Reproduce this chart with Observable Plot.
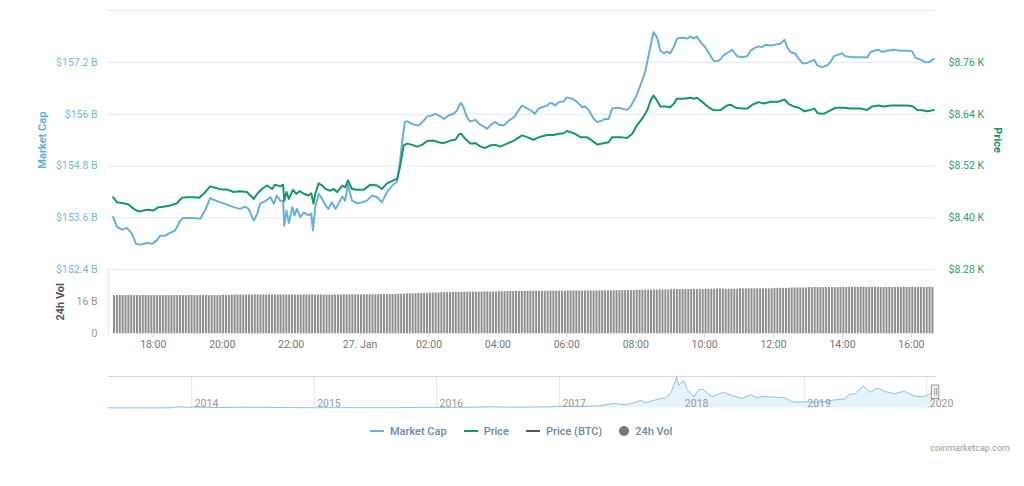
<!DOCTYPE html>
<html><head><meta charset="utf-8">
<script src="https://cdn.jsdelivr.net/npm/d3@7"></script>
<script src="https://cdn.jsdelivr.net/npm/@observablehq/plot@0.6"></script>
<style>
body{margin:0;background:#fff;font-family:Roboto,"Open Sans",sans-serif;}
#wrap{position:relative;width:1024px;height:486px;overflow:hidden;background:#fff;}
#wrap svg{position:absolute;left:0;top:0;}
#legend{position:absolute;top:423px;left:370px;display:flex;align-items:center;height:16px;font-size:11px;font-weight:500;color:#6b8aa6;white-space:nowrap;}
#legend .it{display:flex;align-items:center;margin-right:17px;}
#legend .ln{display:inline-block;width:14px;height:2px;margin-right:6px;}
#legend .dt{display:inline-block;width:10px;height:10px;border-radius:50%;margin-right:6px;}
#credit{position:absolute;top:443px;right:14px;font-size:9px;color:#999;}
</style></head><body><div id="wrap"></div>
<script>
// ---------- data ----------
const mcTime = ["26 16:50","26 16:57","26 17:06","26 17:14","26 17:23","26 17:30","26 17:37","26 17:49","26 17:58","26 18:06","26 18:12","26 18:21","26 18:30","26 18:38","26 18:47","26 18:52","26 19:04","26 19:16","26 19:22","26 19:30","26 19:39","26 19:45","26 19:57","26 20:08","26 20:20","26 20:31","26 20:40","26 20:46","26 20:55","26 21:01","26 21:06","26 21:15","26 21:24","26 21:30","26 21:35","26 21:41","26 21:46","26 21:48","26 21:52","26 21:56","26 22:02","26 22:06","26 22:10","26 22:16","26 22:22","26 22:30","26 22:35","26 22:38","26 22:42","26 22:48","26 22:54","26 23:00","26 23:05","26 23:11","26 23:17","26 23:23","26 23:29","26 23:34","26 23:39","26 23:46","26 23:55","27 00:03","27 00:12","27 00:21","27 00:30","27 00:38","27 00:47","27 00:56","27 01:04","27 01:10","27 01:13","27 01:18","27 01:22","27 01:33","27 01:42","27 01:51","27 01:57","27 02:05","27 02:11","27 02:20","27 02:26","27 02:34","27 02:43","27 02:49","27 02:55","27 02:59","27 03:06","27 03:12","27 03:21","27 03:27","27 03:35","27 03:41","27 03:50","27 03:56","27 04:01","27 04:10","27 04:19","27 04:28","27 04:36","27 04:42","27 04:48","27 04:57","27 05:04","27 05:11","27 05:17","27 05:26","27 05:29","27 05:34","27 05:40","27 05:46","27 05:55","27 06:00","27 06:09","27 06:18","27 06:27","27 06:32","27 06:38","27 06:47","27 06:53","27 07:01","27 07:07","27 07:13","27 07:19","27 07:28","27 07:36","27 07:45","27 07:51","27 08:00","27 08:08","27 08:17","27 08:23","27 08:29","27 08:31","27 08:37","27 08:43","27 08:49","27 08:55","27 09:00","27 09:06","27 09:12","27 09:21","27 09:30","27 09:35","27 09:41","27 09:46","27 09:53","27 10:01","27 10:10","27 10:16","27 10:25","27 10:33","27 10:42","27 10:48","27 10:57","27 11:05","27 11:14","27 11:20","27 11:28","27 11:34","27 11:40","27 11:46","27 11:55","27 12:03","27 12:12","27 12:19","27 12:24","27 12:29","27 12:38","27 12:44","27 12:50","27 12:58","27 13:07","27 13:11","27 13:16","27 13:25","27 13:33","27 13:39","27 13:45","27 13:53","27 13:59","27 14:05","27 14:20","27 14:31","27 14:43","27 14:49","27 14:55","27 15:03","27 15:09","27 15:18","27 15:29","27 15:41","27 15:53","27 16:01","27 16:07","27 16:16","27 16:25","27 16:30","27 16:39"];
const mcValue = [153.62,153.39,153.33,153.37,153.23,153.00,152.98,153.02,153.00,153.08,153.19,153.19,153.26,153.31,153.54,153.60,153.60,153.59,153.58,153.77,154.06,154.02,153.96,153.91,153.85,153.81,153.86,153.81,153.54,153.70,153.93,153.99,154.08,153.93,154.12,154.00,154.00,153.42,153.77,153.48,153.85,153.66,153.81,153.62,153.73,153.66,153.70,153.31,153.85,154.16,154.04,153.89,153.81,153.96,153.81,153.93,154.10,154.00,154.37,154.00,153.94,153.96,154.00,154.12,154.08,153.96,154.20,154.35,154.43,154.93,155.32,155.82,155.84,155.76,155.74,155.85,155.95,155.97,156.01,155.95,155.89,155.97,156.01,156.09,156.26,156.20,155.93,155.83,155.87,155.78,155.72,155.66,155.78,155.82,155.76,155.74,155.85,155.93,156.09,156.20,156.16,156.09,156.01,156.13,156.16,156.20,156.25,156.26,156.20,156.28,156.30,156.39,156.36,156.28,156.16,156.18,156.10,155.89,155.82,155.85,155.89,155.89,156.13,156.15,156.13,156.10,156.18,156.39,156.66,157.01,157.40,157.78,157.90,157.78,157.47,157.41,157.45,157.41,157.55,157.75,157.77,157.75,157.80,157.75,157.80,157.67,157.55,157.36,157.23,157.24,157.36,157.44,157.49,157.34,157.32,157.34,157.47,157.54,157.57,157.55,157.61,157.59,157.61,157.63,157.72,157.55,157.44,157.40,157.28,157.18,157.18,157.24,157.26,157.13,157.09,157.13,157.20,157.34,157.38,157.41,157.34,157.32,157.32,157.31,157.44,157.47,157.49,157.44,157.47,157.49,157.47,157.47,157.46,157.31,157.26,157.20,157.20,157.28];

const priceTime = ["26 16:50","26 16:57","26 17:08","26 17:17","26 17:26","26 17:34","26 17:43","26 17:52","26 18:00","26 18:09","26 18:18","26 18:30","26 18:41","26 18:50","26 18:59","26 19:10","26 19:20","26 19:28","26 19:39","26 19:48","26 19:57","26 20:08","26 20:20","26 20:31","26 20:43","26 20:55","26 21:01","26 21:09","26 21:18","26 21:27","26 21:32","26 21:41","26 21:46","26 21:48","26 21:52","26 21:56","26 22:03","26 22:09","26 22:15","26 22:22","26 22:30","26 22:35","26 22:39","26 22:42","26 22:48","26 22:54","26 23:00","26 23:08","26 23:14","26 23:20","26 23:29","26 23:34","26 23:39","26 23:46","26 23:55","27 00:06","27 00:18","27 00:30","27 00:38","27 00:47","27 00:58","27 01:05","27 01:10","27 01:16","27 01:22","27 01:31","27 01:39","27 01:48","27 01:57","27 02:08","27 02:17","27 02:26","27 02:37","27 02:46","27 02:52","27 02:56","27 03:03","27 03:12","27 03:21","27 03:30","27 03:38","27 03:47","27 03:56","27 04:04","27 04:16","27 04:28","27 04:42","27 04:51","27 05:02","27 05:14","27 05:26","27 05:37","27 05:46","27 05:55","27 06:00","27 06:12","27 06:24","27 06:35","27 06:44","27 06:53","27 07:04","27 07:13","27 07:19","27 07:33","27 07:45","27 07:54","27 08:02","27 08:11","27 08:20","27 08:26","27 08:31","27 08:37","27 08:43","27 08:52","27 09:00","27 09:06","27 09:12","27 09:24","27 09:35","27 09:41","27 09:47","27 09:56","27 10:07","27 10:16","27 10:28","27 10:39","27 10:45","27 10:54","27 11:05","27 11:14","27 11:23","27 11:34","27 11:43","27 11:55","27 12:09","27 12:19","27 12:26","27 12:35","27 12:44","27 12:53","27 13:04","27 13:11","27 13:17","27 13:27","27 13:39","27 13:48","27 14:02","27 14:14","27 14:31","27 14:43","27 14:52","27 15:03","27 15:12","27 15:24","27 15:35","27 15:53","27 16:03","27 16:10","27 16:19","27 16:28","27 16:39"];
const priceValue = [8.448,8.436,8.434,8.431,8.421,8.415,8.417,8.419,8.417,8.425,8.426,8.429,8.434,8.447,8.448,8.448,8.447,8.456,8.473,8.470,8.466,8.466,8.460,8.462,8.460,8.444,8.456,8.467,8.475,8.467,8.477,8.473,8.477,8.440,8.460,8.444,8.465,8.456,8.462,8.456,8.452,8.457,8.433,8.456,8.480,8.475,8.467,8.463,8.467,8.460,8.475,8.471,8.487,8.467,8.465,8.465,8.477,8.475,8.467,8.480,8.487,8.491,8.521,8.568,8.572,8.569,8.565,8.569,8.578,8.579,8.575,8.573,8.579,8.581,8.593,8.595,8.583,8.572,8.573,8.565,8.562,8.568,8.569,8.565,8.572,8.579,8.591,8.587,8.581,8.588,8.592,8.592,8.595,8.596,8.601,8.596,8.587,8.587,8.579,8.570,8.573,8.575,8.587,8.587,8.585,8.595,8.614,8.629,8.649,8.672,8.683,8.672,8.658,8.658,8.656,8.664,8.676,8.676,8.678,8.676,8.678,8.668,8.656,8.649,8.650,8.660,8.662,8.655,8.653,8.653,8.662,8.668,8.665,8.669,8.669,8.674,8.664,8.658,8.655,8.647,8.650,8.653,8.642,8.641,8.649,8.655,8.655,8.653,8.653,8.650,8.658,8.660,8.658,8.660,8.660,8.660,8.658,8.650,8.649,8.647,8.650];

// 24h volume (billion USD), one bar per 5 minutes from 26 Jan 16:50
const volStart = "26 16:50";
const volValue = [
19.1,19.1,
19.1,19.1,19.1,19.1,19.1,19.1,19.1,19.1,19.1,19.1,19.1,19.1,
19.1,19.1,19.1,19.1,19.1,19.1,19.1,19.1,19.1,19.1,19.1,19.1,
19.1,19.1,19.1,19.1,19.1,19.1,19.1,19.1,19.1,19.1,19.1,19.1,
19.3,19.2,19.2,19.2,19.4,19.4,19.4,19.4,19.4,19.4,19.4,19.4,
19.4,19.4,19.4,19.4,19.4,19.4,19.4,19.4,19.4,19.4,19.4,19.4,
19.4,19.4,19.4,19.4,19.4,19.4,19.4,19.4,19.4,19.4,19.4,19.4,
19.4,19.4,19.4,19.4,19.4,19.4,19.5,19.5,19.5,19.5,19.5,19.5,
19.5,19.5,19.5,19.5,19.5,19.5,19.6,19.6,19.6,19.6,19.6,19.6,
19.8,19.8,19.8,19.8,20.0,20.0,20.0,20.0,20.2,20.2,20.2,20.2,
20.4,20.4,20.4,20.4,20.6,20.6,20.6,20.6,20.7,20.7,20.7,20.7,
20.8,20.8,20.8,20.8,20.8,20.8,20.9,20.9,20.9,20.9,20.9,20.9,
21.1,21.1,21.1,21.1,21.1,21.1,21.2,21.2,21.2,21.2,21.2,21.2,
21.3,21.3,21.3,21.3,21.3,21.3,21.3,21.3,21.3,21.3,21.3,21.3,
21.4,21.4,21.4,21.4,21.4,21.4,21.4,21.4,21.4,21.4,21.4,21.4,
21.5,21.5,21.5,21.5,21.5,21.5,21.6,21.6,21.6,21.6,21.6,21.6,
21.8,21.8,21.8,21.8,21.8,21.8,21.9,21.9,21.9,21.9,21.9,21.9,
22.1,22.1,22.1,22.1,22.1,22.1,22.1,22.1,22.1,22.1,22.1,22.1,
22.3,22.3,22.3,22.3,22.3,22.3,22.3,22.3,22.3,22.3,22.3,22.3,
22.5,22.5,22.5,22.5,22.5,22.5,22.5,22.5,22.5,22.5,22.5,22.5,
22.7,22.7,22.7,22.7,22.7,22.7,22.9,22.9,22.9,22.9,22.9,22.9,
23.1,23.1,23.1,23.1,23.1,23.1,23.1,23.1,23.1,23.1,23.1,23.1,
23.2,23.2,23.2,23.2,23.2,23.2,23.2,23.2,23.2,23.2,23.2,23.2,
23.2,23.2,23.2,23.2,23.2,23.2,23.2,23.2,23.2,23.2,23.2,23.2,
23.2,23.2,23.2,23.2,23.2,23.2,23.2,23.2];

const mcTicks = [152.4,153.6,154.8,156,157.2];
const mcGrid = [152.4,153.6,154.8,156,157.2,158.4];
const priceTicks = [8.28,8.40,8.52,8.64,8.76];
const volTicks = [0,16];
const volTickLabels = ["0","16 B"];
const xTicks = ["26 18:00","26 20:00","26 22:00","27 00:00","27 02:00","27 04:00","27 06:00","27 08:00","27 10:00","27 12:00","27 14:00","27 16:00"];
const xTickLabels = ["18:00","20:00","22:00","27. Jan","02:00","04:00","06:00","08:00","10:00","12:00","14:00","16:00"];

// navigator: whole-history market cap (billion USD)
const navDate = ["2013-04-28","2013-06-01","2013-08-01","2013-10-01","2013-11-01","2013-11-30","2013-12-18","2014-01-05","2014-02-25","2014-04-01","2014-06-01","2014-08-01","2014-10-01","2015-01-14","2015-03-01","2015-06-01","2015-09-01","2015-11-04","2016-01-01","2016-03-01","2016-06-17","2016-08-01","2016-10-01","2016-12-01","2017-01-04","2017-02-01","2017-03-01","2017-04-01","2017-05-01","2017-06-10","2017-07-15","2017-08-01","2017-09-01","2017-09-15","2017-10-01","2017-10-31","2017-11-12","2017-11-30","2017-12-07","2017-12-17","2017-12-22","2018-01-07","2018-01-17","2018-02-06","2018-02-20","2018-03-05","2018-04-01","2018-05-05","2018-06-01","2018-06-29","2018-07-25","2018-08-14","2018-09-01","2018-10-01","2018-11-01","2018-11-25","2018-12-15","2019-01-01","2019-02-07","2019-03-01","2019-04-02","2019-05-01","2019-05-14","2019-06-01","2019-06-26","2019-07-16","2019-08-06","2019-09-01","2019-09-25","2019-10-26","2019-11-25","2019-12-17","2020-01-01","2020-01-14","2020-01-27"];
const navValue = [1.5,1.4,1.2,1.5,2.5,13.5,6.0,11.0,6.5,5.5,8.0,7.5,5.0,2.5,3.5,3.2,3.4,6.5,6.5,6.4,12.0,9.0,9.8,12.0,18.5,15.5,19.0,17.5,23.5,47.0,33.0,45.0,80.0,55.0,72.0,102.0,98.0,165.0,230.0,326.0,235.0,285.0,190.0,115.0,190.0,195.0,116.0,165.0,128.0,100.0,140.0,105.0,123.0,114.0,110.0,68.0,60.0,66.0,60.0,67.0,85.0,95.0,140.0,150.0,230.0,165.0,210.0,170.0,150.0,175.0,125.0,118.0,130.0,155.0,157.0];
const navYears = ["2014-01-01","2015-01-01","2016-01-01","2017-01-01","2018-01-01","2019-01-01","2020-01-01"];
const navYearLabels = ["2014","2015","2016","2017","2018","2019","2020"];

const legendItems = [
  {name:"Market Cap", color:"#6ab0d6", kind:"line"},
  {name:"Price", color:"#169669", kind:"line"},
  {name:"Price (BTC)", color:"#555555", kind:"line"},
  {name:"24h Vol", color:"#777777", kind:"dot"}
];

// ---------- helpers ----------
const parseT = s => { const [d, hm] = s.split(" "); const [h, m] = hm.split(":").map(Number); return new Date(Date.UTC(2020, 0, +d, h, m)); };
const parseD = s => new Date(s + "T00:00:00Z");
const W = 1024, H = 486;
const FONT = "Roboto, 'Open Sans', sans-serif";
const xDomain = [new Date(Date.UTC(2020,0,26,16,42)), new Date(Date.UTC(2020,0,27,16,42))];
const common = {width: W, height: H, marginLeft: 108, marginRight: 89,
  style: {background: "transparent", overflow: "visible", fontFamily: FONT}};

const mcData = mcTime.map((t, i) => ({t: parseT(t), v: mcValue[i]}));
const priceData = priceTime.map((t, i) => ({t: parseT(t), v: priceValue[i]}));
const v0 = +parseT(volStart), step = 5 * 60000;
const volData = volValue.map((v, i) => ({t1: new Date(v0 + i * step), t2: new Date(v0 + (i + 1) * step), v}));
const xTickDates = xTicks.map(parseT);
const xLabelMap = new Map(xTickDates.map((d, i) => [+d, xTickLabels[i]]));
const volLabelMap = new Map(volTicks.map((d, i) => [d, volTickLabels[i]]));
const navData = navDate.map((d, i) => ({d: parseD(d), v: navValue[i]}));
const navYearDates = navYears.map(parseD);
const fmtB = d => "$" + (+d.toFixed(1)) + " B";

const wrap = document.getElementById("wrap");

// main panel: market cap
wrap.append(Plot.plot({...common, marginTop: 10, marginBottom: H - 269.3,
  x: {type: "utc", domain: xDomain, axis: null},
  y: {domain: [152.4, 158.4], axis: null},
  marks: [
    Plot.gridY(mcGrid, {stroke: "#e6e6e6", strokeOpacity: 1}),
    Plot.axisY(mcTicks, {anchor: "left", tickSize: 0, tickPadding: 11, tickFormat: fmtB, fill: "#7ab8da", fontSize: 10.5, label: null}),
    Plot.text(["Market Cap"], {frameAnchor: "left", textAnchor: "middle", dx: -66, rotate: -90, fill: "#5fb0da", fontWeight: "bold", fontSize: 11}),
    Plot.lineY(mcData, {x: "t", y: "v", stroke: "#6ab0d6", strokeWidth: 2})
  ]}));

// main panel: price
wrap.append(Plot.plot({...common, marginTop: 10, marginBottom: H - 269.3,
  x: {type: "utc", domain: xDomain, axis: null},
  y: {domain: [8.28, 8.88], axis: null},
  marks: [
    Plot.axisY(priceTicks, {anchor: "right", tickSize: 0, tickPadding: 13, tickFormat: d => "$" + d.toFixed(2) + " K", fill: "#2e9e74", fontSize: 10.5, label: null}),
    Plot.text(["Price"], {frameAnchor: "right", textAnchor: "middle", dx: 62, rotate: 90, fill: "#14946a", fontWeight: "bold", fontSize: 11}),
    Plot.lineY(priceData, {x: "t", y: "v", stroke: "#169669", strokeWidth: 2})
  ]}));

// volume panel
wrap.append(Plot.plot({...common, marginTop: 269.3, marginBottom: H - 333.3,
  x: {type: "utc", domain: xDomain, axis: null},
  y: {domain: [0, 32], axis: null},
  marks: [
    Plot.frame({anchor: "left", stroke: "#e6e6e6"}),
    Plot.rectY(volData, {x1: "t1", x2: "t2", y: "v", fill: "#8e8e8e", insetLeft: 0.45, insetRight: 0.45}),
    Plot.axisY(volTicks, {anchor: "left", tickSize: 0, tickPadding: 11, tickFormat: d => volLabelMap.get(d), fill: "#999", fontSize: 10.5, label: null}),
    Plot.axisX(xTickDates, {anchor: "bottom", tickSize: 4, tickPadding: 3, tickFormat: d => xLabelMap.get(+d), stroke: "#ccd6eb", fill: "#777", fontSize: 10.5, label: null}),
    Plot.text(["24h Vol"], {frameAnchor: "left", textAnchor: "middle", dx: -48, rotate: -90, fill: "#555", fontWeight: "bold", fontSize: 11})
  ]}));

// navigator
const sel = [{a: xDomain[0], b: xDomain[1]}];
wrap.append(Plot.plot({...common, marginTop: 376, marginBottom: H - 407.5,
  x: {type: "utc", domain: [parseD(navDate[0]), parseD(navDate[navDate.length - 1])], axis: null},
  y: {domain: [0, 330], axis: null},
  marks: [
    Plot.ruleX(navYearDates, {stroke: "#e6e6e6"}),
    Plot.areaY(navData, {x: "d", y: "v", fill: "#e4f2fa", fillOpacity: 0.9}),
    Plot.lineY(navData, {x: "d", y: "v", stroke: "#8cc6e4", strokeWidth: 1}),
    Plot.text(navYearDates, {x: d => d, text: (d, i) => navYearLabels[i], frameAnchor: "bottom", textAnchor: "start", dx: 3, dy: -1, fill: "#999", fontSize: 10.5}),
    Plot.frame({anchor: "top", stroke: "#d8d8d8"}),
    Plot.rect(sel, {x1: "a", x2: "b", insetTop: 9, insetBottom: 9, insetLeft: -3.5, insetRight: -3.5, fill: "#f2f2f2", stroke: "#999", strokeWidth: 1}),
    Plot.ruleX(sel, {x: "b", insetTop: 12, insetBottom: 12, dx: -1, stroke: "#999"}),
    Plot.ruleX(sel, {x: "b", insetTop: 12, insetBottom: 12, dx: 1, stroke: "#999"})
  ]}));

// legend + credit
const lg = document.createElement("div"); lg.id = "legend";
for (const it of legendItems) {
  const d = document.createElement("div"); d.className = "it";
  const s = document.createElement("span"); s.className = it.kind === "dot" ? "dt" : "ln"; s.style.background = it.color;
  d.append(s, document.createTextNode(it.name)); lg.append(d);
}
wrap.append(lg);
const cr = document.createElement("div"); cr.id = "credit"; cr.textContent = "coinmarketcap.com"; wrap.append(cr);
</script></body></html>
